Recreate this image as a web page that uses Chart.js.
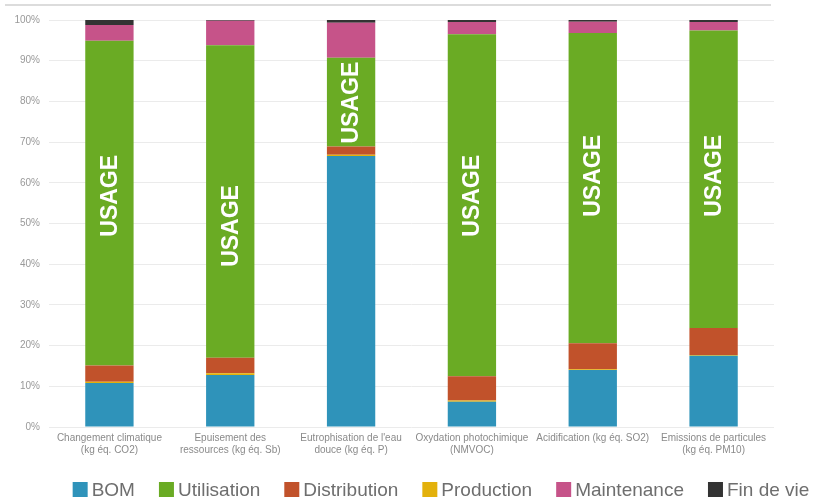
<!DOCTYPE html>
<html>
<head>
<meta charset="utf-8">
<script src="https://cdn.jsdelivr.net/npm/chart.js@4"></script>
<style>
  body { margin: 0; background: #fff; }
  #wrap { position: relative; width: 817px; height: 497px; }
  #topline { position: absolute; left: 5px; top: 4px; width: 766px; height: 2px; background: #dcdcdc; }
</style>
</head>
<body>
<div id="wrap">
  <div id="topline"></div>
  <canvas id="myChart" width="817" height="497"></canvas>
</div>
<script>
const categories = [
    ["Changement climatique", "(kg éq. CO2)"],
    ["Epuisement des", "ressources (kg éq. Sb)"],
    ["Eutrophisation de l'eau", "douce (kg éq. P)"],
    ["Oxydation photochimique", "(NMVOC)"],
    ["Acidification (kg éq. SO2)"],
    ["Emissions de particules", "(kg éq. PM10)"]
]

// valeurs en % (empilées de bas en haut)
const bom = [10.8, 12.8, 66.6, 6.2, 14.0, 17.5]
const production = [0.3, 0.4, 0.3, 0.3, 0.2, 0.2]
const distribution = [4.0, 3.8, 2.0, 6.0, 6.4, 6.6]
const utilisation = [79.8, 76.8, 21.8, 84.0, 76.2, 73.1]
const maintenance = [3.9, 6.0, 8.6, 3.0, 2.8, 2.1]
const finDeVie = [1.2, 0.2, 0.7, 0.5, 0.4, 0.5]

// position verticale du texte "USAGE" (en %)
const usagePos = [56.8, 49.4, 79.7, 56.8, 61.7, 61.7]
const usageText = "USAGE"

const yTicks = [0, 10, 20, 30, 40, 50, 60, 70, 80, 90, 100]
const legendOrder = ["BOM", "Utilisation", "Distribution", "Production", "Maintenance", "Fin de vie"]

const series = [
    { label: "BOM", data: bom, color: "#2f93ba" },
    { label: "Production", data: production, color: "#e3b10c" },
    { label: "Distribution", data: distribution, color: "#c1522b" },
    { label: "Utilisation", data: utilisation, color: "#6aab24" },
    { label: "Maintenance", data: maintenance, color: "#c65389" },
    { label: "Fin de vie", data: finDeVie, color: "#333333" }
]

const usagePlugin = {
    id: "usageText",
    afterDatasetsDraw(chart) {
        const ctx = chart.ctx
        const idx = chart.data.datasets.findIndex(d => d.label === "Utilisation")
        const meta = chart.getDatasetMeta(idx)
        const y = chart.scales.y
        ctx.save()
        ctx.fillStyle = "#ffffff"
        ctx.font = "bold 23px 'Liberation Sans', Arial, sans-serif"
        ctx.textAlign = "center"
        ctx.textBaseline = "middle"
        meta.data.forEach((bar, i) => {
            ctx.save()
            ctx.translate(bar.x, y.getPixelForValue(usagePos[i]))
            ctx.rotate(-Math.PI / 2)
            ctx.fillText(usageText, 0, 1)
            ctx.restore()
        })
        ctx.restore()
    }
}

const legendPlugin = {
    id: "customLegend",
    afterDraw(chart) {
        const ctx = chart.ctx
        const box = 15, gapText = 4, gapItem = 24
        ctx.save()
        ctx.font = "19px 'Liberation Sans', Arial, sans-serif"
        ctx.textBaseline = "alphabetic"
        const items = legendOrder.map(name => {
            const ds = chart.data.datasets.find(d => d.label === name)
            return { text: name, color: ds.backgroundColor, w: ctx.measureText(name).width }
        })
        let total = items.reduce((s, it) => s + box + gapText + it.w, 0) + gapItem * (items.length - 1)
        let x = 441 - total / 2
        const baseline = 496
        items.forEach(it => {
            ctx.fillStyle = it.color
            ctx.fillRect(x, baseline - 14, box, box)
            x += box + gapText
            ctx.fillStyle = "#6e6e6e"
            ctx.fillText(it.text, x, baseline)
            x += it.w + gapItem
        })
        ctx.restore()
    }
}

new Chart(document.querySelector("#myChart"), {
    type: "bar",
    data: {
        labels: categories,
        datasets: series.map(s => ({
            label: s.label,
            data: s.data,
            backgroundColor: s.color,
            borderWidth: 0,
            categoryPercentage: 0.8,
            barPercentage: 0.5
        }))
    },
    options: {
        responsive: false,
        animation: false,
        layout: { padding: { top: 20, right: 43, bottom: 30, left: 0 } },
        plugins: {
            legend: { display: false },
            tooltip: { enabled: false }
        },
        scales: {
            x: {
                stacked: true,
                grid: { display: false, drawTicks: false },
                border: { display: false },
                ticks: {
                    color: "#8a8a8a",
                    font: { family: "'Liberation Sans', Arial, sans-serif", size: 10 },
                    padding: 5,
                    maxRotation: 0,
                    autoSkip: false
                },
                afterFit(scale) { scale.height = 40 }
            },
            y: {
                stacked: true,
                min: 0,
                max: 100,
                afterBuildTicks(scale) { scale.ticks = yTicks.map(v => ({ value: v })) },
                grid: { color: "#ebebeb", drawTicks: false },
                border: { display: false },
                ticks: {
                    color: "#999999",
                    font: { family: "'Liberation Sans', Arial, sans-serif", size: 10 },
                    padding: 9,
                    callback: v => v + "%"
                },
                afterFit(scale) { scale.width = 49 }
            }
        }
    },
    plugins: [usagePlugin, legendPlugin]
})
</script>
</body>
</html>
